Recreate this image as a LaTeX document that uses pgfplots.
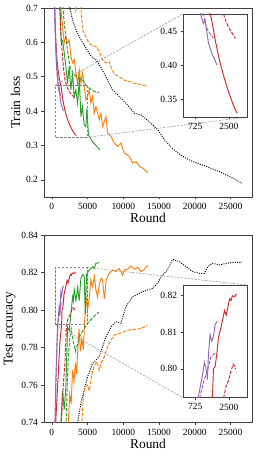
\documentclass[border=0pt]{standalone}
\usepackage{fontspec}
\setmainfont{Liberation Serif}
\usepackage{pgfplots}
\pgfplotsset{compat=1.18}
\definecolor{cpurple}{HTML}{9467BD}
\definecolor{cred}{HTML}{D62728}
\definecolor{cgreen}{HTML}{2CA02C}
\definecolor{corange}{HTML}{FF7F0E}
\pgfplotsset{
  base/.style={scale only axis, tick align=outside, tick pos=left,
    axis line style={black!75, line width=0.6pt},
    major tick length=2.5bp, tick style={black!75, line width=0.6pt},
    /pgf/number format/assume math mode=true,
    ticklabel style={font=\fontsize{9.5}{10}\selectfont},
    label style={font=\fontsize{13.5}{15}\selectfont},
    clip=true},
  mainax/.style={base, width=208bp, xmin=-1100, xmax=28000,
    xtick={0,5000,10000,15000,20000,25000}, scaled x ticks=false,
    xticklabel style={/pgf/number format/1000 sep={}},
    xlabel={Round}, xlabel style={yshift=3bp}},
  insetax/.style={base, width=64bp, xmin=460, xmax=4900,
    xtick={725,2500}, xticklabels={725,2500}, minor xtick={},
    axis background/.style={fill=white},
    yticklabel style={/pgf/number format/fixed, /pgf/number format/precision=2, /pgf/number format/zerofill}},
}
\tikzset{
  ps/.style={cpurple, line width=0.95pt},
  pd/.style={cpurple, line width=0.95pt, dash pattern=on 3.5bp off 1.5bp},
  rs/.style={cred, line width=0.95pt},
  rd/.style={cred, line width=0.95pt, dash pattern=on 3.5bp off 1.5bp},
  gs/.style={cgreen, line width=0.95pt},
  gd/.style={cgreen, line width=0.95pt, dash pattern=on 3.5bp off 1.5bp},
  os/.style={corange, line width=0.95pt},
  od/.style={corange, line width=0.95pt, dash pattern=on 3.5bp off 1.5bp},
  kd/.style={black, line width=0.95pt, dash pattern=on 1bp off 1.3bp},
  boxst/.style={gray, line width=0.6pt, dash pattern=on 2.5bp off 1.5bp},
  conn/.style={gray!85, line width=0.55pt, dash pattern=on 2.2bp off 1.3bp},
}
% ---------- train loss data ----------
\def\TPS{(300,0.76)(400,0.68)(500,0.60)(600,0.55)(700,0.515)(800,0.49)(887,0.4735)(977,0.461)(1042,0.466)(1081,0.456)(1178,0.432)(1250,0.425)(1337,0.417)(1450,0.41)(1611,0.40)}
\def\TPD{(330,0.76)(430,0.68)(530,0.61)(630,0.56)(730,0.525)(830,0.50)(950,0.478)(1000,0.47)(1081,0.456)(1250,0.446)(1420,0.439)}
\def\TRS{(330,0.76)(420,0.68)(520,0.62)(650,0.57)(800,0.53)(1000,0.50)(1150,0.485)(1300,0.47)(1400,0.455)(1510,0.437)(1650,0.42)(1820,0.4025)(2050,0.385)(2330,0.368)(2600,0.355)(2900,0.343)(3180,0.334)(3400,0.329)}
\def\TRD{(1000,0.76)(1100,0.70)(1250,0.63)(1450,0.57)(1650,0.52)(1850,0.49)(2050,0.475)(2300,0.462)(2600,0.452)(2900,0.445)(3180,0.439)}
\def\TGS{(1000,0.75)(1150,0.70)(1300,0.60)(1500,0.605)(1730,0.57)(1960,0.53)(2200,0.48)(2420,0.53)(2660,0.462)(2900,0.51)(3120,0.442)(3360,0.462)(3590,0.423)(3720,0.452)(3830,0.50)(4060,0.384)(4280,0.413)(4520,0.36)(4760,0.355)(4900,0.408)(5120,0.331)(5680,0.311)(6160,0.30)(6720,0.287)}
\def\TGD{(1450,0.75)(1580,0.70)(1680,0.666)(2040,0.598)(2520,0.53)(3000,0.51)(3450,0.50)(3900,0.495)(4380,0.488)(4760,0.476)(5220,0.467)(5920,0.457)(6620,0.454)}
\def\TOS{(1100,0.75)(1250,0.70)(1500,0.647)(1730,0.598)(1960,0.617)(2200,0.598)(2430,0.607)(2660,0.559)(2900,0.54)(3130,0.55)(3360,0.511)(3600,0.481)(3830,0.52)(4060,0.481)(4300,0.511)(4530,0.472)(4760,0.433)(5000,0.443)(5230,0.462)(5460,0.423)(5700,0.443)(5930,0.394)(6160,0.413)(6400,0.394)(6630,0.375)(6860,0.394)(7100,0.355)(7570,0.384)(7800,0.336)(8270,0.326)(8730,0.307)(9200,0.297)(9670,0.307)(10130,0.278)(10830,0.268)(11300,0.249)(11770,0.253)(12230,0.239)(12700,0.234)(13400,0.221)}
\def\TOD{(3150,0.73)(3350,0.694)(3550,0.73)(3950,0.73)(4060,0.70)(4300,0.637)(4530,0.627)(5000,0.605)(5460,0.593)(6160,0.588)(6630,0.574)(7090,0.549)(7570,0.54)(8020,0.544)(8490,0.515)(8960,0.505)(9420,0.50)(10120,0.49)(10820,0.486)(11520,0.481)(12220,0.478)(12800,0.475)(13400,0.472)}
\def\TKD{(2200,0.75)(2520,0.70)(2900,0.665)(3400,0.635)(4000,0.61)(4700,0.585)(5500,0.56)(6160,0.549)(6800,0.53)(7560,0.50)(8000,0.48)(8490,0.462)(9200,0.447)(9880,0.433)(10700,0.415)(11520,0.394)(12460,0.389)(13000,0.38)(13620,0.369)(14500,0.352)(15020,0.340)(15700,0.318)(16900,0.29)(18300,0.268)(19700,0.253)(21600,0.239)(23400,0.224)(25300,0.205)(26600,0.19)}
% ---------- test accuracy data ----------
\def\APS{(380,0.73)(450,0.745)(550,0.762)(650,0.775)(750,0.787)(813,0.7926)(918,0.7971)(1015,0.8018)(1080,0.80)(1135,0.7971)(1178,0.8039)(1253,0.8093)(1337,0.8075)(1419,0.8088)(1510,0.812)(1640,0.8129)}
\def\APD{(430,0.73)(520,0.75)(620,0.767)(720,0.78)(800,0.788)(865,0.7926)(977,0.7963)(1110,0.7991)(1283,0.8031)(1419,0.8039)(1560,0.8043)}
\def\ARS{(500,0.73)(560,0.742)(700,0.752)(880,0.7645)(1000,0.774)(1120,0.782)(1250,0.788)(1368,0.7926)(1419,0.80)(1510,0.8007)(1611,0.8043)(1700,0.8083)(1860,0.811)(2010,0.8136)(2130,0.8158)(2270,0.8145)(2420,0.8167)(2580,0.819)(2720,0.8185)(2850,0.8198)(3080,0.8195)(3330,0.8203)}
\def\ARD{(1250,0.73)(1340,0.741)(1580,0.759)(1820,0.7716)(1980,0.785)(2090,0.7926)(2270,0.7954)(2450,0.7967)(2720,0.7994)(2930,0.8013)(3130,0.8007)(3200,0.80)}
\def\AGS{(1200,0.73)(1260,0.74)(1500,0.757)(1730,0.747)(1960,0.759)(2200,0.791)(2430,0.789)(2660,0.798)(2900,0.807)(3000,0.805)(3130,0.811)(3360,0.805)(3600,0.812)(3830,0.805)(4060,0.817)(4300,0.819)(4530,0.818)(4670,0.798)(4860,0.819)(5230,0.8214)(5700,0.8231)(5930,0.8222)(6160,0.8249)(6630,0.8253)}
\def\AGD{(1900,0.73)(2000,0.74)(2150,0.76)(2300,0.775)(2500,0.785)(2700,0.79)(3000,0.783)(3300,0.778)(3600,0.782)(4000,0.787)(4500,0.790)(5000,0.793)(5500,0.795)(6000,0.797)(6600,0.799)}
\def\AOS{(2200,0.73)(2300,0.74)(2500,0.755)(2700,0.75)(2900,0.768)(3100,0.762)(3300,0.772)(3450,0.766)(3600,0.777)(3800,0.790)(4000,0.778)(4200,0.785)(4400,0.779)(4600,0.795)(4800,0.807)(5000,0.800)(5250,0.807)(5450,0.816)(5700,0.8125)(5950,0.818)(6150,0.811)(6400,0.807)(6650,0.814)(6900,0.817)(7100,0.816)(7350,0.806)(7600,0.816)(8000,0.8196)(8500,0.8214)(8950,0.8205)(9400,0.8222)(9900,0.8187)(10150,0.8214)(10600,0.8217)(11050,0.8235)(11550,0.8217)(12000,0.8228)(12450,0.8205)(12950,0.8217)(13400,0.824)}
\def\AOD{(4100,0.73)(4200,0.74)(4390,0.754)(4670,0.759)(5000,0.760)(5230,0.757)(5600,0.766)(5930,0.77)(6260,0.7725)(6630,0.768)(6860,0.7716)(7330,0.775)(7800,0.7805)(8270,0.784)(8730,0.7867)(9430,0.7876)(10130,0.7885)(10830,0.7894)(11530,0.7897)(12230,0.790)(12940,0.791)(13400,0.792)}
\def\AKD{(3500,0.73)(3600,0.74)(4060,0.7503)(4530,0.7574)(5000,0.7645)(5700,0.7716)(6620,0.7752)(7570,0.7858)(8270,0.791)(8960,0.7938)(9660,0.793)(10360,0.8018)(11280,0.8071)(12690,0.8098)(14080,0.8116)(14780,0.8143)(15480,0.8187)(16180,0.8214)(16900,0.827)(17840,0.8258)(18770,0.8231)(19700,0.8205)(20640,0.8196)(21340,0.8196)(21800,0.8231)(22500,0.8249)(23440,0.824)(24380,0.8249)(25300,0.8254)(26600,0.8254)}
\newcommand\plotlossPR{%
  \addplot[rd] coordinates {\TRD};
  \addplot[rs] coordinates {\TRS};
  \addplot[pd] coordinates {\TPD};
  \addplot[ps] coordinates {\TPS};}
\newcommand\plotloss{%
  \addplot[kd] coordinates {\TKD};
  \addplot[od] coordinates {\TOD};
  \addplot[os] coordinates {\TOS};
  \addplot[gd] coordinates {\TGD};
  \addplot[gs] coordinates {\TGS};
  \plotlossPR}
\newcommand\plotaccPR{%
  \addplot[rd] coordinates {\ARD};
  \addplot[rs] coordinates {\ARS};
  \addplot[pd] coordinates {\APD};
  \addplot[ps] coordinates {\APS};}
\newcommand\plotacc{%
  \addplot[kd] coordinates {\AKD};
  \addplot[od] coordinates {\AOD};
  \addplot[os] coordinates {\AOS};
  \addplot[gd] coordinates {\AGD};
  \addplot[gs] coordinates {\AGS};
  \plotaccPR}
\begin{document}
\begin{tikzpicture}
\path[use as bounding box] (0,0) rectangle (258bp,458bp);
% ===== top: train loss =====
\begin{axis}[mainax, at={(44bp,261bp)}, anchor=south west, height=189bp,
  ymin=0.15, ymax=0.7, ytick={0.2,0.3,0.4,0.5,0.6,0.7},
  yticklabel style={/pgf/number format/fixed, /pgf/number format/precision=1, /pgf/number format/zerofill},
  ylabel={Train loss}, ylabel style={yshift=-1bp}]
  \plotloss
  \draw[boxst] (axis cs:460,0.3235) rectangle (axis cs:4900,0.475);
  \coordinate (A1) at (axis cs:460,0.475);
  \coordinate (A2) at (axis cs:4900,0.3235);
\end{axis}
\draw[conn] (A1) -- (183bp,444bp);
\draw[conn] (A2) -- (247bp,341bp);
\begin{axis}[xmode=log, insetax, at={(183bp,341bp)}, anchor=south west, height=103bp,
  ymin=0.3235, ymax=0.475, ytick={0.35,0.40,0.45}]
  \plotlossPR
\end{axis}
% ===== bottom: test accuracy =====
\begin{axis}[mainax, at={(44bp,35.3bp)}, anchor=south west, height=187.7bp,
  ymin=0.74, ymax=0.84, ytick={0.74,0.76,0.78,0.80,0.82,0.84},
  yticklabel style={/pgf/number format/fixed, /pgf/number format/precision=2, /pgf/number format/zerofill},
  ylabel={Test accuracy}, ylabel style={yshift=-1bp}]
  \plotacc
  \draw[boxst] (axis cs:460,0.7922) rectangle (axis cs:4900,0.8227);
  \coordinate (B1) at (axis cs:4900,0.8227);
  \coordinate (B2) at (axis cs:460,0.7922);
\end{axis}
\draw[conn] (B1) -- (247bp,173bp);
\draw[conn] (B2) -- (183bp,60.3bp);
\begin{axis}[xmode=log, insetax, at={(183bp,60.3bp)}, anchor=south west, height=112.7bp,
  ymin=0.7922, ymax=0.8227, ytick={0.80,0.81,0.82}]
  \plotaccPR
\end{axis}
\end{tikzpicture}
\end{document}
